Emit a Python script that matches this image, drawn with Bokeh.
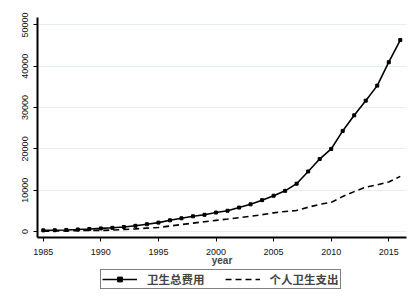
from bokeh.plotting import figure
from bokeh.layouts import column
from bokeh.models import Legend, LegendItem, Range1d, FixedTicker
from bokeh.embed import file_html
from bokeh.resources import INLINE

years = list(range(1985, 2017))
total_exp = [279.0, 315.9, 379.6, 488.0, 615.5, 747.4, 893.5, 1096.9, 1377.8, 1761.2,
             2155.1, 2709.4, 3196.7, 3678.7, 4047.5, 4586.6, 5025.9, 5790.0, 6584.1,
             7590.3, 8659.9, 9843.3, 11574.0, 14535.4, 17541.9, 19980.4, 24345.9,
             28119.0, 31669.0, 35312.4, 40974.6, 46344.9]
personal_exp = [91.0, 107.5, 137.4, 194.9, 267.9, 267.0, 359.8, 474.1, 627.3, 808.0,
                987.5, 1328.6, 1687.1, 2027.4, 2371.1, 2705.2, 3013.9, 3342.1, 3678.7,
                4071.4, 4520.9, 4853.6, 5098.7, 5875.9, 6571.2, 7051.3, 8465.3,
                9656.3, 10729.3, 11295.4, 11992.7, 13337.9]
x_ticks = [1985, 1990, 1995, 2000, 2005, 2010, 2015]
y_ticks = [0, 10000, 20000, 30000, 40000, 50000]
series_names = ["卫生总费用", "个人卫生支出"]

p = figure(width=412, height=269, output_backend="svg", toolbar_location=None,
           x_range=Range1d(1984.5, 2016.54), y_range=Range1d(-1450, 51800),
           min_border_left=37, min_border_right=6, min_border_top=17,
           min_border_bottom=32)
p.outline_line_color = None
p.background_fill_color = "white"
p.border_fill_color = "white"

p.line(years, total_exp, line_color="black", line_width=1.6)
p.scatter(years, total_exp, marker="square", size=3, fill_color="black",
          line_color="black")
p.line(years, personal_exp, line_color="black", line_width=1.6, line_dash="6 4")

p.xaxis.ticker = FixedTicker(ticks=x_ticks)
p.yaxis.ticker = FixedTicker(ticks=y_ticks)
p.xaxis.minor_tick_line_color = None
p.yaxis.minor_tick_line_color = None
for ax in (p.xaxis, p.yaxis):
    ax.axis_line_color = "black"
    ax.axis_line_width = 2
    ax.major_tick_line_color = "black"
    ax.major_tick_line_width = 1
    ax.major_tick_out = 4
    ax.major_tick_in = 0
    ax.major_label_text_font = "Liberation Sans"
    ax.major_label_text_font_size = "9px"
    ax.major_label_text_color = "#111111"
    ax.major_label_standoff = 5

p.xaxis.major_label_standoff = 7
p.yaxis.major_label_orientation = "vertical"
p.xaxis.axis_label = "year"
p.xaxis.axis_label_text_font = "Liberation Sans"
p.xaxis.axis_label_text_font_style = "bold"
p.xaxis.axis_label_text_font_size = "10px"
p.xaxis.axis_label_standoff = -3

p.xgrid.grid_line_color = None
p.ygrid.ticker = FixedTicker(ticks=y_ticks)
p.ygrid.grid_line_color = "#e4edef"
p.ygrid.grid_line_width = 1

# legend panel: same series, ranges chosen so that only the legend shows
q = figure(width=412, height=31, output_backend="svg", toolbar_location=None,
           x_range=Range1d(0, 1), y_range=Range1d(0, 1),
           x_axis_type=None, y_axis_type=None,
           min_border_left=37, min_border_right=6, min_border_top=0,
           min_border_bottom=0)
q.outline_line_color = None
q.background_fill_color = "white"
q.border_fill_color = "white"
q.xgrid.grid_line_color = None
q.ygrid.grid_line_color = None
g1 = q.line(years, total_exp, line_color="black", line_width=1.6)
g1m = q.scatter(years, total_exp, marker="square", size=3, fill_color="black",
                line_color="black")
g2 = q.line(years, personal_exp, line_color="black", line_width=1.6, line_dash="6 4")

legend = Legend(items=[LegendItem(label=series_names[0], renderers=[g1, g1m]),
                       LegendItem(label=series_names[1], renderers=[g2])],
                orientation="horizontal", location=(63, 11))
legend.label_text_font = "Noto Sans CJK SC"
legend.label_text_font_style = "bold"
legend.label_text_font_size = "11.5px"
legend.border_line_color = "black"
legend.border_line_width = 1
legend.background_fill_color = "white"
legend.glyph_width = 35
legend.glyph_height = 12
legend.label_standoff = 10
legend.spacing = 20
legend.padding = 1
legend.margin = 0
legend.label_height = 12
q.add_layout(legend, "center")

layout = column(p, q, spacing=0)
open("out.html", "w").write(file_html(layout, INLINE))
